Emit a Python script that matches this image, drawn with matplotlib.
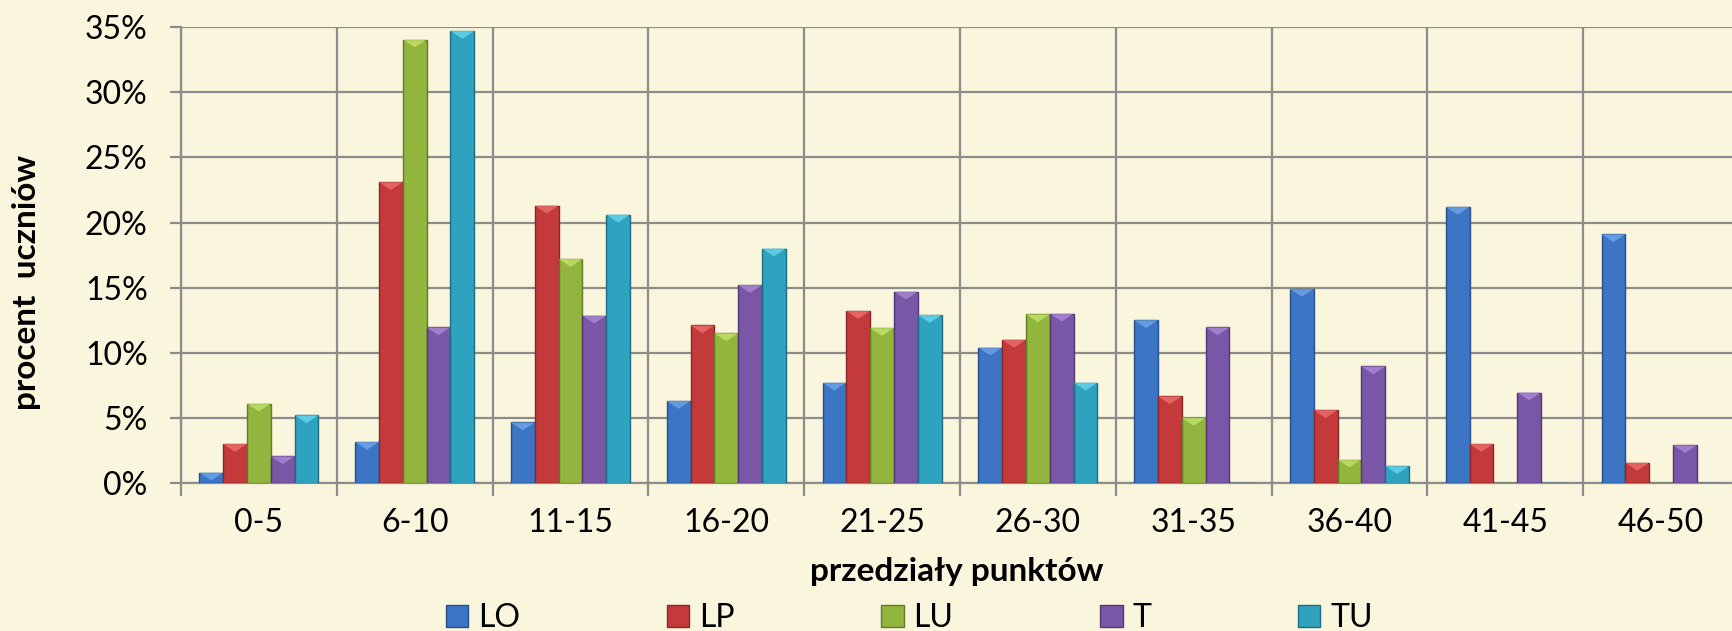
import matplotlib
matplotlib.use('Agg')
import matplotlib.pyplot as plt
from matplotlib.patches import Patch, Polygon
from matplotlib.ticker import FuncFormatter, MultipleLocator, FixedLocator
import numpy as np

plt.rcParams['font.family'] = ['Lato', 'DejaVu Sans']

categories = ['0-5', '6-10', '11-15', '16-20', '21-25', '26-30',
              '31-35', '36-40', '41-45', '46-50']
series_names = ['LO', 'LP', 'LU', 'T', 'TU']

LO = [0.8, 3.15, 4.65, 6.3, 7.7, 10.4, 12.5, 14.9, 21.2, 19.1]
LP = [3.0, 23.1, 21.3, 12.1, 13.2, 11.0, 6.65, 5.6, 3.0, 1.55]
LU = [6.1, 34.05, 17.2, 11.5, 11.9, 12.95, 5.0, 1.8, 0.0, 0.0]
T = [2.05, 11.95, 12.85, 15.2, 14.7, 13.0, 11.95, 8.95, 6.95, 2.9]
TU = [5.2, 34.7, 20.6, 18.0, 12.9, 7.7, 0.0, 1.3, 0.0, 0.0]

values = [LO, LP, LU, T, TU]
colors = ['#3b75c4', '#c43a3b', '#92b53e', '#7a56a6', '#2ea2bf']
edges = ['#28508a', '#862627', '#617a28', '#513872', '#1d6d82']
tops = ['#6fa5ea', '#ee6e6e', '#c4e36a', '#a98ad6', '#68d6f0']

BG = '#faf6dd'
GRID = '#8c8c8c'

fig = plt.figure(figsize=(17.32, 6.31), dpi=100, facecolor=BG)
ax = fig.add_axes([0.1045, 0.2345, 0.8955, 0.7225], facecolor=BG)

x = np.arange(len(categories))
n = len(series_names)
bw = 0.153
for i, (vals, c, ec, tc) in enumerate(zip(values, colors, edges, tops)):
    pos = x + (i - (n - 1) / 2) * bw
    bars = ax.bar(pos, vals, width=bw, color=c, edgecolor=ec, linewidth=1.0,
                  zorder=3)
    for b in bars:
        h = b.get_height()
        if h <= 0:
            continue
        x0 = b.get_x()
        w = b.get_width()
        th = min(0.6, h)
        tri = Polygon([(x0, h), (x0 + w, h), (x0 + w / 2, h - th)],
                      closed=True, facecolor=tc, edgecolor='none',
                      alpha=0.8, zorder=4)
        ax.add_patch(tri)

ax.set_ylim(0, 35)
ax.set_xlim(-0.5, -0.5 + 1551 / 155.8)
ax.yaxis.set_major_locator(MultipleLocator(5))
ax.yaxis.set_major_formatter(FuncFormatter(lambda v, p: f'{v:.0f}%'))
ax.set_xticks(x)
ax.set_xticklabels(categories)
ax.xaxis.set_minor_locator(FixedLocator(np.arange(-0.5, len(categories), 1)))

ax.grid(True, axis='y', which='major', color=GRID, lw=1.6, zorder=0)
ax.grid(True, axis='x', which='minor', color=GRID, lw=1.6, zorder=0)
ax.grid(False, axis='x', which='major')

for s in ['top', 'right']:
    ax.spines[s].set_visible(False)
ax.spines['left'].set_color(GRID)
ax.spines['left'].set_linewidth(1.6)
ax.spines['bottom'].set_color(GRID)
ax.spines['bottom'].set_linewidth(1.6)

ax.tick_params(axis='y', which='major', length=8, width=1.6, color=GRID,
               labelsize=23, pad=16)
ax.tick_params(axis='x', which='major', length=0, labelsize=23, pad=18)
ax.tick_params(axis='x', which='minor', length=9, width=1.6, color=GRID,
               direction='out')

ax.set_xlabel('przedziały punktów', fontsize=24, fontweight='bold',
              labelpad=14)
ax.set_ylabel('procent  uczniów', fontsize=24, fontweight='bold')
ax.yaxis.set_label_coords(-0.09, 0.44)

handles = [Patch(facecolor=c, edgecolor=ec, label=nm)
           for c, ec, nm in zip(colors, edges, series_names)]
fig.legend(handles=handles, loc='center', bbox_to_anchor=(0.525, 0.02),
           ncol=5, frameon=False, fontsize=23, handlelength=0.7,
           handleheight=0.7, handletextpad=0.3, columnspacing=4.6)

fig.savefig('out.png', dpi=100, facecolor=BG)
